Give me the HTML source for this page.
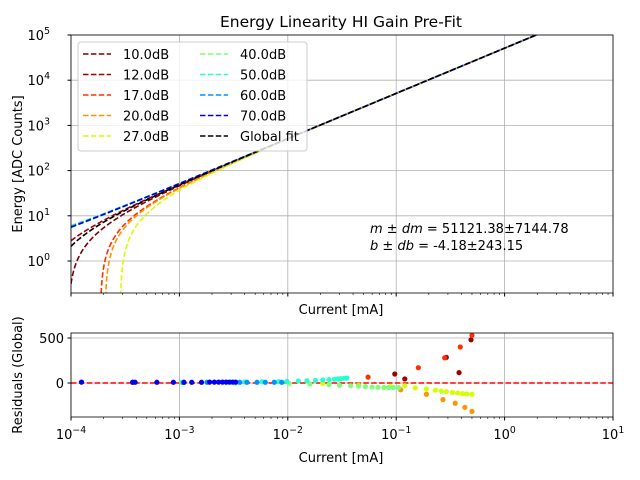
<!DOCTYPE html>
<html><head><meta charset="utf-8"><style>
body{margin:0;background:#fff}
svg{display:block;font-family:"DejaVu Sans","Liberation Sans",sans-serif}
</style></head><body>
<svg id="c" width="640" height="480"></svg>
<script>
const gains=["10.0dB","12.0dB","17.0dB","20.0dB","27.0dB","40.0dB","50.0dB","60.0dB","70.0dB","Global fit"];
const colors=["#7f0000","#a00000","#ff3000","#ff9400","#d4ff00","#7dff7a","#29ffce","#0094ff","#0000f0","#000000"];
const slopes=[51121,51121,51121,51121,51121,51121,51121,51121,51121,51121];
const intercepts=[-4.8,-2.3,-9.5,-10.5,-14.5,1.0,0.4,0.7,0.5,-3.0];
const resX=[
[],
[0.097,0.12,0.29,0.38,0.49],
[0.055,0.16,0.28,0.39,0.50],
[0.045,0.11,0.19,0.27,0.35,0.43,0.50],
[0.021,0.045,0.089,0.12,0.15,0.19,0.23,0.26,0.29,0.33,0.37,0.41,0.45,0.50],
[0.0033,0.0103,0.016,0.024,0.030,0.038,0.045,0.052,0.060,0.068,0.077,0.085,0.094,0.105],
[0.00105,0.0011,0.0027,0.004,0.0058,0.0082,0.0098,0.0125,0.015,0.018,0.021,0.024,0.027,0.029,0.031,0.033,0.035],
[0.00037,0.0011,0.0018,0.0036,0.0042,0.0052,0.0062,0.0075,0.0088],
[0.000125,0.00037,0.00039,0.00062,0.00088,0.0011,0.0013,0.0016,0.0019,0.0021,0.0023,0.0025,0.0027,0.0029,0.0031,0.0033],
[]];
const resY=[
[],
[100,45,285,115,480],
[65,170,280,400,530],
[-20,-75,-125,-185,-225,-270,-315],
[-5,-30,-40,-30,-55,-65,-80,-90,-95,-105,-112,-118,-122,-125],
[0,-5,-10,-18,-25,-30,-35,-40,-45,-48,-50,-50,-50,-50],
[5,5,10,12,14,16,18,22,25,30,34,38,42,46,48,52,55],
[8,8,8,8,8,8,8,8,8],
[10,8,8,8,8,8,8,8,10,10,10,10,10,10,10,10],
[]];
const xTicks=[-4,-3,-2,-1,0,1];
const yTicksTop=[0,1,2,3,4,5];
const yTicksBot=[0,500];

const NS="http://www.w3.org/2000/svg",svg=document.getElementById('c');
const FS=13,SUP=9.3;
function el(t,a,p){const e=document.createElementNS(NS,t);for(const k in a)e.setAttribute(k,a[k]);(p||svg).appendChild(e);return e;}
const L=71,R=613,T1=35,B1=293,T2=333,B2=417;
const X=v=>L+(Math.log10(v)+4)/5*(R-L);
const Y1=v=>261-Math.log10(v)*45.2;
const Y2=v=>383-v*0.09;
function txt(x,y,s,o,name){const t=el('text',Object.assign({x:x,y:y,'font-size':FS,fill:'#000'},o||{}));t.textContent=s;return t;}
function grid(T,B){xTicks.forEach(d=>{const x=X(Math.pow(10,d));el('line',{x1:x,x2:x,y1:T,y2:B,stroke:'#b0b0b0','stroke-width':0.8});});}
// ---- top panel
grid(T1,B1);
yTicksTop.forEach(d=>{const y=Y1(Math.pow(10,d));el('line',{x1:L,x2:R,y1:y,y2:y,stroke:'#b0b0b0','stroke-width':0.8});
 el('line',{x1:L-3.5,x2:L,y1:y,y2:y,stroke:'#000'});
 const t=txt(L-21,y+5,'10',{'text-anchor':'end'},'y-tick-label');const s=el('tspan',{dy:-6,'font-size':SUP},t);s.textContent=d;});
const clip=el('clipPath',{id:'cp1'});el('rect',{x:L,y:T1,width:R-L,height:B1-T1},clip);
const g1=el('g',{'clip-path':'url(#cp1)'});
gains.forEach((gname,i)=>{let pts=[];for(let k=0;k<=600;k++){const x=Math.pow(10,-4+5*Math.pow(k/600,1.6));const v=slopes[i]*x+intercepts[i];if(v<=0){pts=[];continue;}pts.push(X(x).toFixed(2)+','+Math.max(-50,Math.min(400,Y1(v))).toFixed(2));}
 const p=el('polyline',{points:pts.join(' '),fill:'none',stroke:colors[i],'stroke-width':1.6,'stroke-dasharray':'5.5,2.4'},g1);
 });
xTicks.forEach(d=>{const x=X(Math.pow(10,d));el('line',{x1:x,x2:x,y1:B1,y2:B1+3.5,stroke:'#000'});
 for(let m=2;m<10&&d<1;m++){const xm=X(m*Math.pow(10,d));el('line',{x1:xm,x2:xm,y1:B1,y2:B1+2,stroke:'#000','stroke-width':0.6});}});
el('rect',{x:L,y:T1,width:R-L,height:B1-T1,fill:'none',stroke:'#000','stroke-width':0.8});
txt(341,27,'Energy Linearity HI Gain Pre-Fit',{'font-size':15.5,'text-anchor':'middle'},'chart-title');
txt(341,314,'Current [mA]',{'text-anchor':'middle'},'x-axis-title-top');
txt(26,164,'Energy [ADC Counts]',{'text-anchor':'middle',transform:'rotate(-90 22 164)',x:22},'y-axis-title-top');
const a1=txt(370,233,'',{},'fit-annotation-slope');
a1.innerHTML='<tspan font-style="italic">m</tspan> ± <tspan font-style="italic">dm</tspan> = 51121.38±7144.78';
const a2=txt(370,250,'',{},'fit-annotation-intercept');
a2.innerHTML='<tspan font-style="italic">b</tspan> ± <tspan font-style="italic">db</tspan> = -4.18±243.15';
// legend
const lg=el('g',{});
el('rect',{x:78,y:42,width:229,height:109,rx:3,fill:'#fff','fill-opacity':0.8,stroke:'#ccc'},lg);
gains.forEach((gname,i)=>{const col=i<5?0:1,row=i<5?i:i-5;const x=83+col*117,y=54+row*20.5;
 el('line',{x1:x,x2:x+28,y1:y,y2:y,stroke:colors[i],'stroke-width':1.6,'stroke-dasharray':'5.5,2.4'},lg);
 const t=txt(x+40,y+5,gname,{},'legend-entry');lg.appendChild(t);});
// ---- bottom panel
grid(T2,B2);
yTicksBot.forEach(v=>{const y=Y2(v);el('line',{x1:L,x2:R,y1:y,y2:y,stroke:'#b0b0b0','stroke-width':0.8});el('line',{x1:L-3.5,x2:L,y1:y,y2:y,stroke:'#000'});txt(L-7,y+5,String(v),{'text-anchor':'end'},'y-tick-label-bottom');});
el('line',{x1:L,x2:R,y1:Y2(0),y2:Y2(0),stroke:'#ff0000','stroke-width':1.5,'stroke-dasharray':'5.5,2.4'});
resX.forEach((xs,i)=>xs.forEach((x,j)=>{const c=el('circle',{cx:X(x),cy:Y2(resY[i][j]),r:2.6,fill:colors[i]});}));
xTicks.forEach(d=>{const x=X(Math.pow(10,d));el('line',{x1:x,x2:x,y1:B2,y2:B2+3.5,stroke:'#000'});
 for(let m=2;m<10&&d<1;m++){const xm=X(m*Math.pow(10,d));el('line',{x1:xm,x2:xm,y1:B2,y2:B2+2,stroke:'#000','stroke-width':0.6});}
 const t=txt(x,B2+22,'10',{'text-anchor':'middle'},'x-tick-label');const s=el('tspan',{dy:-6,'font-size':SUP},t);s.textContent=d<0?'\u2212'+(-d):d;});
el('rect',{x:L,y:T2,width:R-L,height:B2-T2,fill:'none',stroke:'#000','stroke-width':0.8});
txt(341,462,'Current [mA]',{'text-anchor':'middle'},'x-axis-title');
txt(22,375,'Residuals (Global)',{'text-anchor':'middle',transform:'rotate(-90 22 375)'},'y-axis-title-bottom');
</script>
</body></html>
